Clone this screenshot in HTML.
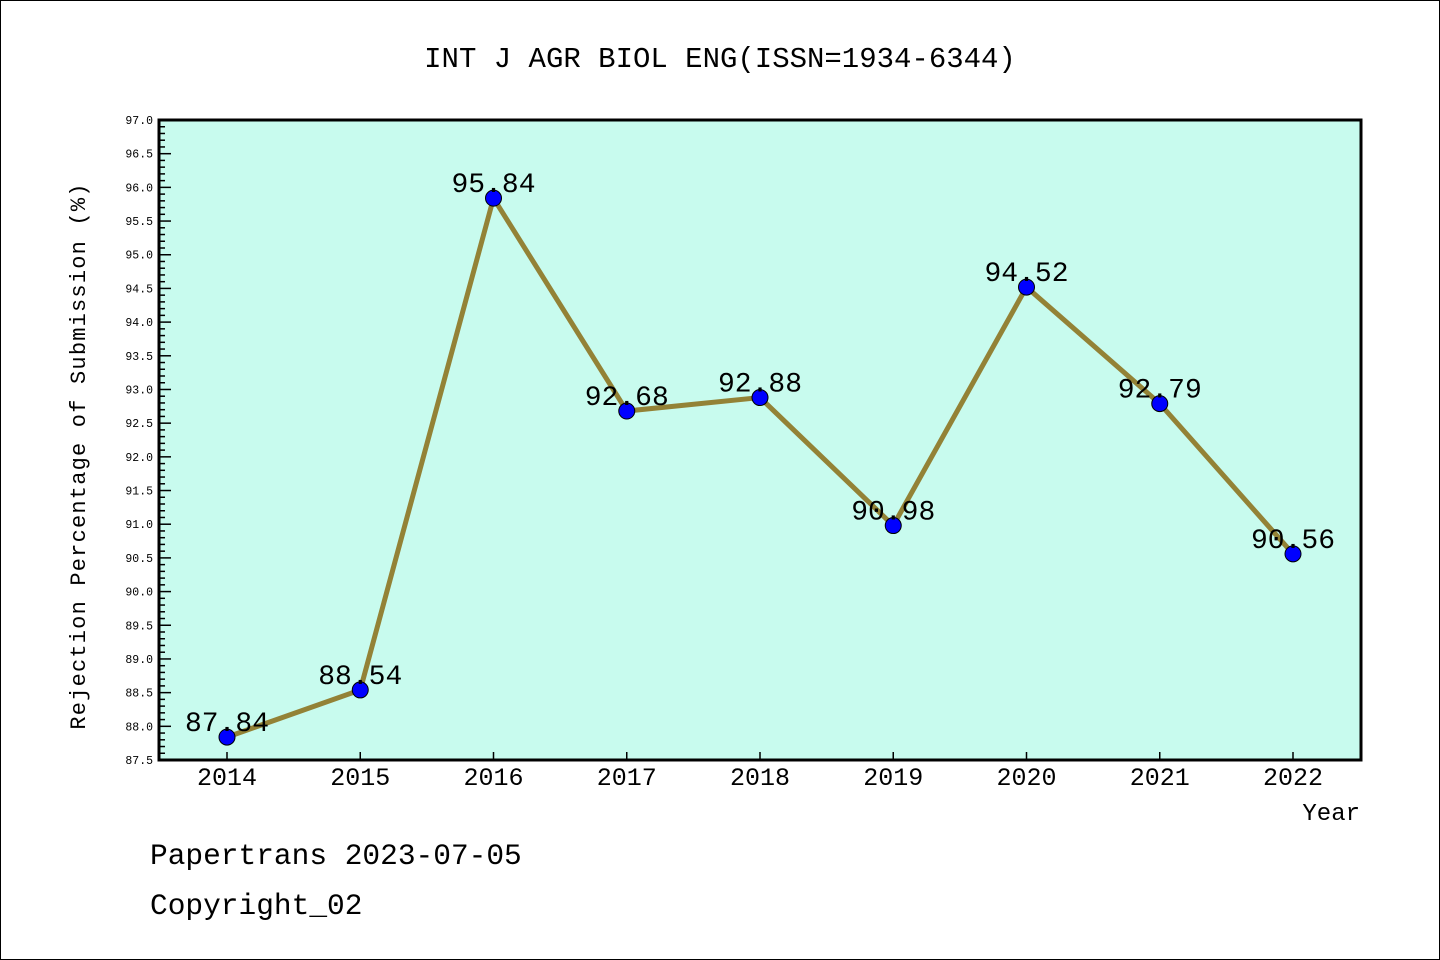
<!DOCTYPE html>
<html><head><meta charset="utf-8"><style>
html,body{margin:0;padding:0;background:#fff}
svg{display:block}
text{font-family:"Liberation Mono",monospace;fill:#000}
</style></head><body>
<svg id="chart" width="1440" height="960">
<rect x="0.5" y="0.5" width="1439" height="959" fill="#fff" stroke="#000"/>
<text x="720" y="67" font-size="29" text-anchor="middle">INT J AGR BIOL ENG(ISSN=1934-6344)</text>
<rect x="159" y="120" width="1202" height="640" fill="#c8fbee"/>
<g id="yaxis"></g><g id="xaxis"></g><g id="series"></g>
<rect x="159" y="120" width="1202" height="640" fill="none" stroke="#000" stroke-width="3"/>
<text transform="translate(85,456) rotate(-90)" font-size="22" text-anchor="middle" letter-spacing="1.2">Rejection Percentage of Submission (%)</text>
<text x="1360" y="820" font-size="24" text-anchor="end">Year</text>
<text x="150" y="864" font-size="29.5">Papertrans 2023-07-05</text>
<text x="150" y="914" font-size="29.5">Copyright_02</text>
</svg>
<script>
const years=["2014","2015","2016","2017","2018","2019","2020","2021","2022"];
const rates=[87.84,88.54,95.84,92.68,92.88,90.98,94.52,92.79,90.56];
const yMin=87.5,yMax=97.0;
const NS="http://www.w3.org/2000/svg";
const X0=227,X1=1293,Y0=760,Y1=120;
function xs(i){return X0+(X1-X0)*i/(years.length-1);}
function ys(v){return Y0-(v-yMin)/(yMax-yMin)*(Y0-Y1);}
function mk(t,a,p){const e=document.createElementNS(NS,t);for(const k in a)e.setAttribute(k,a[k]);p.appendChild(e);return e;}
const ya=document.getElementById('yaxis');
for(let k=0;k<=95;k++){const v=yMin+k*0.1;const y=ys(v);const major=k%5===0;
 const t=mk('line',{x1:159,x2:159+(major?12:6),y1:y,y2:y,stroke:'#000','stroke-width':1.5},ya);
 
 
 if(major){const l=mk('text',{x:153,y:y+4,'font-size':11.5,'text-anchor':'end'},ya);l.textContent=v.toFixed(1);
 
 }}
const xa=document.getElementById('xaxis');
years.forEach((yr,i)=>{const x=xs(i);
 const t=mk('line',{x1:x,x2:x,y1:752,y2:760,stroke:'#000','stroke-width':1.5},xa);
 
 
 const l=mk('text',{x:x,y:785,'font-size':25,'text-anchor':'middle'},xa);l.textContent=yr;
 
 });
const s=document.getElementById('series');
const pl=mk('polyline',{points:rates.map((v,i)=>xs(i)+','+ys(v)).join(' '),fill:'none',stroke:'#938236','stroke-width':5},s);


rates.forEach((v,i)=>{const x=xs(i),y=ys(v);
 const c=mk('circle',{cx:x,cy:y,r:8,fill:'#0000ff',stroke:'#000','stroke-width':1},s);
 
 
 const l=mk('text',{x:x,y:y-6,'font-size':28,'text-anchor':'middle'},s);l.textContent=v.toFixed(2);
 
 });
</script>
</body></html>
